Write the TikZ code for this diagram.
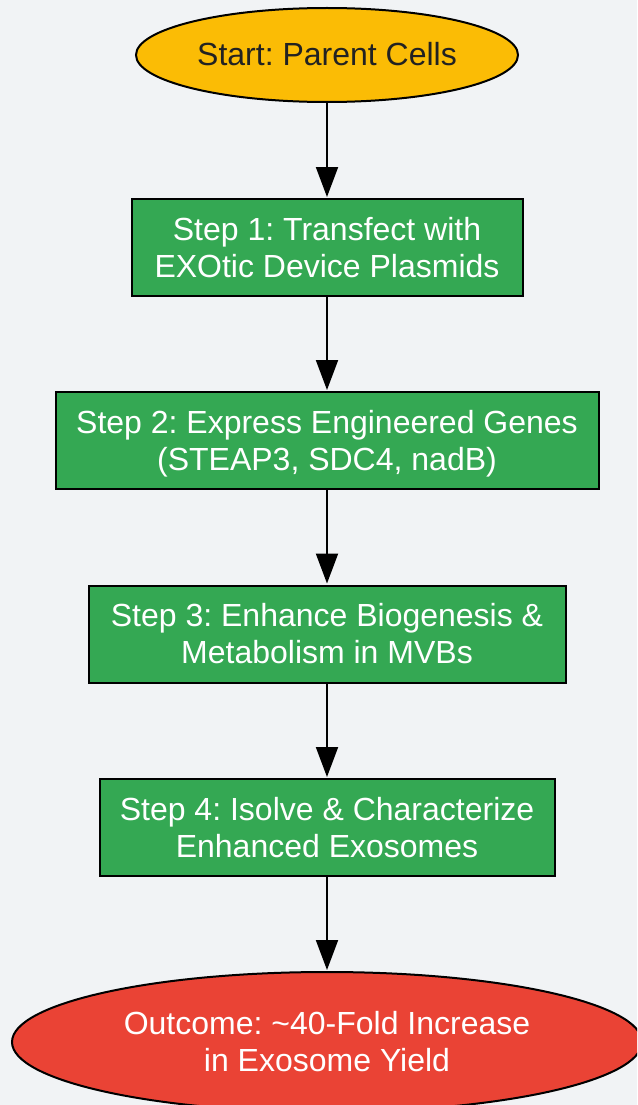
\documentclass[tikz,border=0pt]{standalone}
\usepackage{fontspec}
\setmainfont{Liberation Sans}
\usetikzlibrary{shapes.geometric,arrows.meta}
\definecolor{bgc}{RGB}{241,243,245}
\definecolor{gygreen}{RGB}{52,168,83}
\definecolor{gyred}{RGB}{234,67,53}
\definecolor{gyyellow}{RGB}{251,188,5}
\definecolor{darktext}{RGB}{34,34,34}
\newcommand{\lnstrut}{\rule[-7.5pt]{0pt}{37pt}}
\frenchspacing
\begin{document}
\begin{tikzpicture}[x=1pt,y=-1pt,
  base/.style={draw=black,line width=2pt,inner sep=0pt,align=center,
    font=\fontsize{32}{37}\selectfont},
  stepbox/.style={base,rectangle,fill=gygreen,text=white,minimum height=97pt},
  startnode/.style={base,ellipse,fill=gyyellow,text=darktext,minimum width=382pt,minimum height=94pt},
  endnode/.style={base,ellipse,fill=gyred,text=white,minimum width=630pt,minimum height=140pt},
  conn/.style={draw=black,line width=2pt,-{Triangle[length=30pt,width=22pt]},shorten >=1pt}
]
\path[use as bounding box,fill=bgc] (0,0) rectangle (637,1105);
\clip (0,0) rectangle (637,1105);
\node[startnode] (start) at (327,55) {\lnstrut Start: Parent Cells};
\node[stepbox,minimum width=391pt] (s1) at (327,247.5) {\lnstrut Step 1: Transfect with\\\lnstrut EXOtic Device Plasmids};
\node[stepbox,minimum width=543pt] (s2) at (327,440.5) {\lnstrut Step 2: Express Engineered Genes\\\lnstrut (STEAP3, SDC4, nadB)};
\node[stepbox,minimum width=477pt] (s3) at (327,634) {\lnstrut Step 3: Enhance Biogenesis \&\\\lnstrut Metabolism in MVBs};
\node[stepbox,minimum width=455pt] (s4) at (327,827.5) {\lnstrut Step 4: Isolve \& Characterize\\\lnstrut Enhanced Exosomes};
\node[endnode] (out) at (327,1042) {\lnstrut Outcome: \textasciitilde40-Fold Increase\\\lnstrut in Exosome Yield};
\draw[conn] (start) -- (s1);
\draw[conn] (s1) -- (s2);
\draw[conn] (s2) -- (s3);
\draw[conn] (s3) -- (s4);
\draw[conn] (s4) -- (out);
\end{tikzpicture}
\end{document}
